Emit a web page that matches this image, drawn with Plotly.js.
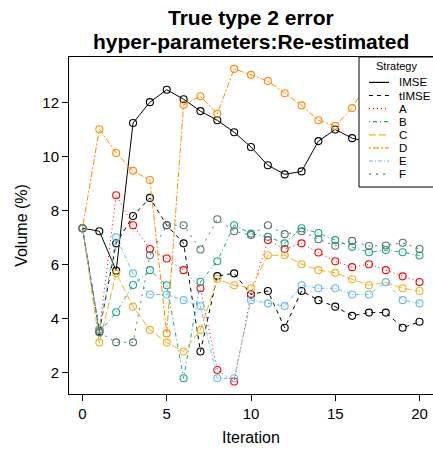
<!DOCTYPE html>
<html><head><meta charset="utf-8">
<script src="https://cdn.plot.ly/plotly-3.0.1.min.js"></script>
<style>html,body{margin:0;padding:0;background:#fff}#chart{width:433px;height:454px}</style>
</head><body><div id="chart"></div>
<script>
// ---- data ----
const iterations = [0,1,2,3,4,5,6,7,8,9,10,11,12,13,14,15,16,17,18,19,20];
const seriesNames = ["IMSE","tIMSE","A","B","C","D","E","F"];
const imse  = [7.35,7.24,5.78,11.24,12.01,12.47,12.12,11.68,11.34,10.90,10.35,9.68,9.34,9.45,10.57,11.00,10.68,10.52,10.40,10.60,10.50];
const timse = [7.35,3.55,6.79,7.80,8.47,7.46,6.79,2.79,5.58,5.68,4.90,5.03,3.67,5.03,4.69,4.45,4.11,4.23,4.23,3.67,3.89];
const sA    = [7.35,3.60,8.57,7.46,6.58,6.23,5.80,5.13,2.11,1.68,4.90,6.91,6.58,6.79,6.45,6.13,5.91,6.02,5.80,5.57,5.36];
const sB    = [7.35,3.50,4.24,5.25,5.80,5.24,1.80,5.37,6.13,7.46,7.15,7.03,6.79,7.35,7.17,6.91,6.66,6.46,6.54,6.46,6.34];
const sC    = [7.35,3.12,5.68,4.45,3.59,3.12,2.79,3.59,5.47,5.24,5.13,6.35,6.35,6.02,5.80,5.70,5.46,5.24,5.35,5.13,5.03];
const sD    = [7.35,11.01,10.13,9.47,9.13,3.46,11.91,12.23,11.58,13.24,13.02,12.79,12.34,11.89,11.34,11.14,11.79,12.80,12.90,13.10,13.00];
const sE    = [7.35,3.60,7.01,5.68,4.90,4.90,4.69,4.47,1.80,1.80,4.69,4.57,4.47,5.24,5.13,5.13,4.90,4.90,5.36,4.69,4.57];
const sF    = [7.35,3.50,3.13,3.13,6.35,7.46,7.46,6.56,7.68,7.24,7.10,7.46,7.13,7.24,6.94,6.70,6.88,6.69,6.71,6.81,6.58];
const xTicks = [0,5,10,15,20];
const yTicks = [2,4,6,8,10,12];
const titleLines = ["True type 2 error","hyper-parameters:Re-estimated"];
const legendTitle = "Strategy";

// ---- styles ----
const allValues = [imse,timse,sA,sB,sC,sD,sE,sF];
const colors = ["#000000","#000000","#FF0000","#1BA58D","#F2B11F","#FF8C00","#66BFE6","#557A6B"];
const dashes = ["solid","4px,4px","1px,3px","1px,3px,4px,3px","7px,3px","2px,2px,6px,2px","4px,2px,1px,2px","2px,5px"];

const W=433,H=454,ML=69,MR=0,MT=57,MB=60;
const px=v=>(v-ML)/(W-ML-MR);
const py=v=>(H-MB-v)/(H-MT-MB);
const FONT="Liberation Sans, Arial, Helvetica, sans-serif";

const traces = allValues.map((vals,i)=>({
  x: iterations, y: vals, type:"scatter", mode:"lines+markers", name: seriesNames[i],
  line:{color:colors[i], width:1, dash:dashes[i]},
  marker:{symbol:"circle-open", size:7, color:colors[i], line:{width:1.1, color:colors[i]}},
  showlegend:false, hoverinfo:"skip"
}));

// manual legend (R-style box)
const shapes = [{type:"rect", xref:"paper", yref:"paper", x0:px(359), x1:px(445), y0:py(187), y1:py(57),
  fillcolor:"#ffffff", line:{color:"#000", width:1}, layer:"above"}];
const annotations = [];
annotations.push({xref:"paper",yref:"paper",x:px(396.5),y:py(66),text:legendTitle,showarrow:false,
  xanchor:"center",yanchor:"middle",font:{family:FONT,size:11,color:"#000"}});
seriesNames.forEach((n,i)=>{
  const yy = 82.4 + 13.1*i;
  shapes.push({type:"line",xref:"paper",yref:"paper",x0:px(369),x1:px(389),y0:py(yy),y1:py(yy),
    line:{color:colors[i],width:1.2,dash:dashes[i]},layer:"above"});
  annotations.push({xref:"paper",yref:"paper",x:px(397),y:py(yy),text:n,showarrow:false,
    xanchor:"left",yanchor:"middle",font:{family:FONT,size:11.5,color:"#000"}});
});
// title lines
annotations.push({xref:"paper",yref:"paper",x:px(251),y:py(18),text:"<b>"+titleLines[0]+"</b>",showarrow:false,
  xanchor:"center",yanchor:"middle",font:{family:FONT,size:21,color:"#000"}});
annotations.push({xref:"paper",yref:"paper",x:px(251),y:py(42),text:"<b>"+titleLines[1]+"</b>",showarrow:false,
  xanchor:"center",yanchor:"middle",font:{family:FONT,size:21,color:"#000"}});

const axisCommon = {showgrid:false, zeroline:false, showline:true, mirror:true, linecolor:"#000", linewidth:1,
  ticks:"outside", ticklen:6, tickwidth:1, tickcolor:"#000", tickfont:{family:FONT,size:15,color:"#000"}};

const layout = {
  width:W, height:H, margin:{l:ML,r:MR,t:MT,b:MB}, paper_bgcolor:"#fff", plot_bgcolor:"#fff",
  font:{family:FONT,color:"#000"}, showlegend:false,
  xaxis:Object.assign({}, axisCommon, {range:[-0.8,20.8], tickvals:xTicks, ticktext:xTicks.map(String),
    title:{text:"Iteration", font:{family:FONT,size:16,color:"#000"}, standoff:10}}),
  yaxis:Object.assign({}, axisCommon, {range:[1.22,13.68], tickvals:yTicks, ticktext:yTicks.map(String),
    title:{text:"Volume (%)", font:{family:FONT,size:16,color:"#000"}, standoff:10}}),
  shapes:shapes, annotations:annotations
};
Plotly.newPlot("chart", traces, layout, {staticPlot:true, displayModeBar:false});
</script></body></html>
